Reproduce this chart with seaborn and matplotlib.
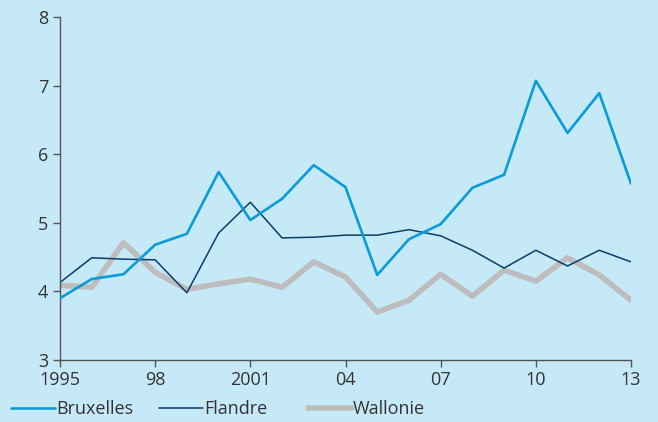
import numpy as np
import pandas as pd
import matplotlib
matplotlib.use("Agg")
import matplotlib.pyplot as plt
import seaborn as sns

# data
years = list(range(1995, 2014))
bruxelles = [3.90, 4.18, 4.25, 4.68, 4.84, 5.74, 5.04, 5.35, 5.84, 5.52,
             4.24, 4.76, 4.98, 5.51, 5.70, 7.07, 6.31, 6.89, 5.57]
flandre = [4.13, 4.49, 4.47, 4.46, 3.98, 4.85, 5.30, 4.78, 4.79, 4.82,
           4.82, 4.90, 4.81, 4.60, 4.34, 4.60, 4.37, 4.60, 4.43]
wallonie = [4.09, 4.06, 4.71, 4.28, 4.03, 4.11, 4.18, 4.06, 4.43, 4.21,
            3.70, 3.87, 4.25, 3.93, 4.31, 4.15, 4.49, 4.24, 3.87]
tick_years = [1995, 1998, 2001, 2004, 2007, 2010, 2013]
tick_labels = ['1995', '98', '2001', '04', '07', '10', '13']

bg = '#c6e9f8'
txt = '#333333'

sns.set_style("ticks")
plt.rcParams['font.family'] = ['Liberation Sans Narrow', 'Open Sans', 'DejaVu Sans']

fig = plt.figure(figsize=(6.58, 4.22), dpi=100, facecolor=bg)
ax = fig.add_axes([60/658, 62/422, 571/658, 343/422])
ax.set_facecolor(bg)

sns.lineplot(x=years, y=wallonie, color='#bdbdbd', linewidth=4.0, label='Wallonie', ax=ax, zorder=1)
sns.lineplot(x=years, y=flandre, color='#0b3d6b', linewidth=1.1, label='Flandre', ax=ax, zorder=2)
sns.lineplot(x=years, y=bruxelles, color='#0a9bd9', linewidth=1.9, label='Bruxelles', ax=ax, zorder=3)

ax.set_xlim(1995, 2013)
ax.set_ylim(3, 8)
ax.set_xticks(tick_years)
ax.set_xticklabels(tick_labels)
ax.set_yticks([3, 4, 5, 6, 7, 8])
sns.despine(ax=ax)
for s in ['left', 'bottom']:
    ax.spines[s].set_color('#555555')
    ax.spines[s].set_linewidth(1.0)
ax.tick_params(colors='#555555', labelcolor=txt, labelsize=13, length=5, width=1)
ax.tick_params(axis='x', pad=3)

h, l = ax.get_legend_handles_labels()
ax.get_legend().remove()

# one legend entry per fixed-width column, as in the original
for i, x0 in zip([2, 1, 0], [0.0, 148/658, 297/658]):
    leg = fig.legend([h[i]], [l[i]], loc='lower left', bbox_to_anchor=(x0, -0.017),
                     frameon=False, fontsize=13, handlelength=2.45,
                     handletextpad=0.05, borderaxespad=0.2)
    for t in leg.get_texts():
        t.set_color(txt)

plt.savefig('out.png', dpi=100, facecolor=bg)
